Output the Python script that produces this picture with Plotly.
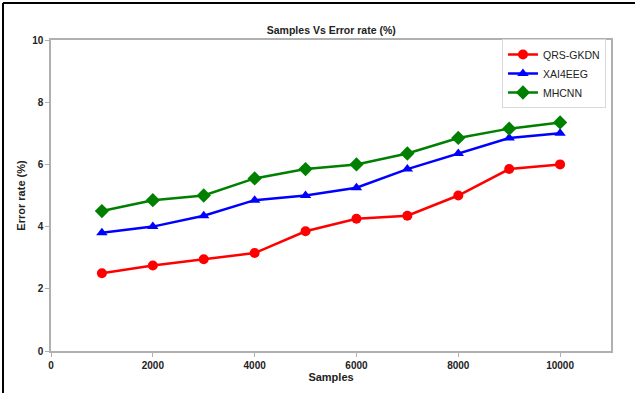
import plotly.graph_objects as go

samples = [1000, 2000, 3000, 4000, 5000, 6000, 7000, 8000, 9000, 10000]
qrs_gkdn = [2.5, 2.75, 2.95, 3.15, 3.85, 4.25, 4.35, 5.0, 5.85, 6.0]
xai4eeg = [3.8, 4.0, 4.35, 4.85, 5.0, 5.25, 5.85, 6.35, 6.85, 7.0]
mhcnn = [4.5, 4.85, 5.0, 5.55, 5.85, 6.0, 6.35, 6.85, 7.15, 7.35]
x_ticks = [0, 2000, 4000, 6000, 8000, 10000]
y_ticks = [0, 2, 4, 6, 8, 10]

FONT = "Liberation Sans, Arial, sans-serif"

fig = go.Figure()
series = [
    ("QRS-GKDN", qrs_gkdn, "#ff0000", "circle", 10),
    ("XAI4EEG", xai4eeg, "#0000ff", "triangle-up", 10),
    ("MHCNN", mhcnn, "#008000", "diamond", 11),
]
for name, vals, col, sym, sz in series:
    fig.add_trace(go.Scatter(
        x=samples, y=vals, name=name, mode="lines+markers",
        line=dict(color=col, width=2.5),
        marker=dict(color=col, symbol=sym, size=sz),
    ))

axis_common = dict(
    showgrid=False, zeroline=False, showline=True, mirror=True,
    linecolor="#b0b0b0", linewidth=1.5,
    ticks="outside", ticklen=4, tickcolor="#b0b0b0", tickwidth=1,
    tickfont=dict(family=FONT, size=10, color="#222", weight="bold"),
)

fig.update_xaxes(range=[0, 11000], tickvals=x_ticks,
                 ticktext=[str(v) for v in x_ticks],
                 title=dict(text="Samples", standoff=4,
                            font=dict(family=FONT, size=11, color="#222", weight="bold")),
                 **axis_common)
fig.update_yaxes(range=[0, 10], tickvals=y_ticks,
                 ticktext=[str(v) for v in y_ticks],
                 title=dict(text="Error rate (%)", standoff=4,
                            font=dict(family=FONT, size=11, color="#222", weight="bold")),
                 **axis_common)

# border lines in pixel positions converted to paper coords
PL, PT, PW, PH = 51, 40, 560, 311
def px_x(p):
    return (p - PL) / PW
def px_y(p):
    return 1 + (PT - p) / PH

fig.update_layout(
    width=635, height=393,
    margin=dict(l=51, r=24, t=40, b=42),
    paper_bgcolor="white", plot_bgcolor="white",
    title=dict(text="Samples Vs Error rate (%)", x=0.5217, xanchor="center",
               y=1 - 30 / 393, yanchor="middle",
               font=dict(family=FONT, size=10.5, color="#222", weight="bold")),
    legend=dict(x=0.991, xanchor="right", y=px_y(39), yanchor="top",
                bgcolor="white", bordercolor="#d8d8d8", borderwidth=1,
                font=dict(family=FONT, size=10.5, color="#222"),
                itemwidth=30, tracegroupgap=0),
    showlegend=True,
    shapes=[
        dict(type="line", xref="paper", yref="paper",
             x0=px_x(3), x1=px_x(640), y0=px_y(3), y1=px_y(3),
             line=dict(color="black", width=2)),
        dict(type="line", xref="paper", yref="paper",
             x0=px_x(3), x1=px_x(3), y0=px_y(3), y1=px_y(400),
             line=dict(color="black", width=2)),
    ],
)

fig.write_html("out.html", config={"displayModeBar": False},
               post_script="document.body.style.margin='0';document.body.style.padding='0';")
